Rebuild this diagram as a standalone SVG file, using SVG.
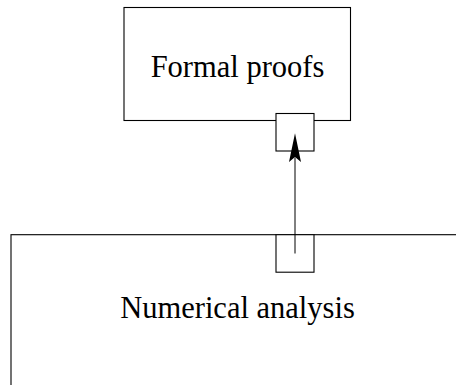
<svg xmlns="http://www.w3.org/2000/svg" width="456" height="385" viewBox="0 0 456 385">
  <style>
    .box { fill: #ffffff; stroke: #000000; stroke-width: 1.1; }
    .port { fill: #ffffff; stroke: #000000; stroke-width: 1.1; }
    .label { font-family: "Liberation Serif", "DejaVu Serif", serif; font-size: 30.5px; fill: #000000; text-anchor: middle; }
    .edge { stroke: #000000; stroke-width: 1; fill: none; }
  </style>
  <defs>
    <marker id="stealth" viewBox="-6 -24 12 30" refX="0" refY="0" markerWidth="12" markerHeight="30" markerUnits="userSpaceOnUse" orient="auto">
      <path d="M0,0 L-6,5 L0,-24 L6,5 Z" fill="#000000" transform="rotate(90)"/>
    </marker>
  </defs>
  <rect width="456" height="385" fill="#ffffff"/>
  <g id="formal-proofs">
    <rect class="box" x="124" y="7.5" width="226.5" height="113"/>
    <text class="label" x="237.5" y="76.7">Formal proofs</text>
    <rect class="port" x="276" y="113.5" width="38" height="37.5"/>
  </g>
  <g id="numerical-analysis">
    <rect class="box" x="11" y="234.7" width="500" height="200"/>
    <text class="label" x="237.5" y="318.3">Numerical analysis</text>
    <rect class="port" x="276" y="234.7" width="38" height="37.5"/>
  </g>
  <g id="connectors">
    <line class="edge" x1="295" y1="253.5" x2="295" y2="157.5"/>
    <path d="M295,133.3 L301,162 L295,157 L289,162 Z" fill="#000000"/>
  </g>
</svg>
